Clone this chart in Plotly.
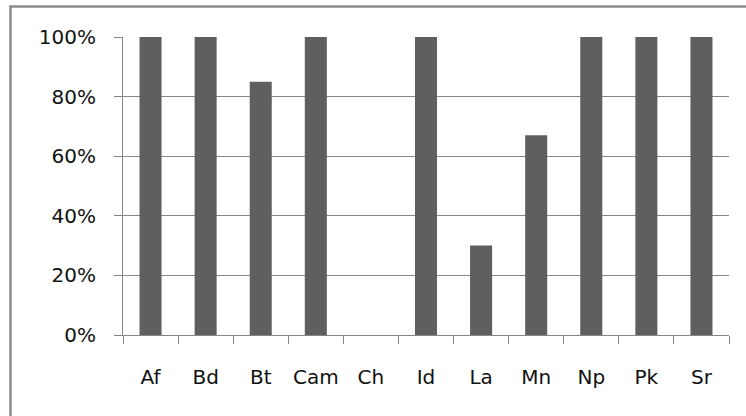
import plotly.graph_objects as go

categories = ["Af", "Bd", "Bt", "Cam", "Ch", "Id", "La", "Mn", "Np", "Pk", "Sr"]
values = [1.00, 1.00, 0.85, 1.00, 0.0, 1.00, 0.30, 0.67, 1.00, 1.00, 1.00]
y_ticks = [0, 0.2, 0.4, 0.6, 0.8, 1.0]
y_tick_labels = ["0%", "20%", "40%", "60%", "80%", "100%"]

W, H = 746, 416
ml, mr, mt, mb = 123, 17, 37, 81
pw, ph = W - ml - mr, H - mt - mb

def px_to_paper_x(px):
    return (px - ml) / pw

def px_to_paper_y(py):
    return (H - mb - py) / ph

border = dict(color="#8c8c8c", width=2.5)

fig = go.Figure(go.Bar(
    x=categories, y=values,
    marker=dict(color="#5f5f5f", line=dict(width=0)),
    width=0.4,
))

fig.update_layout(
    width=W, height=H,
    margin=dict(l=ml, r=mr, t=mt, b=mb),
    paper_bgcolor="white", plot_bgcolor="white",
    font=dict(family="DejaVu Sans", size=20, color="#111111"),
    showlegend=False,
    shapes=[
        dict(type="rect", xref="paper", yref="paper",
             x0=px_to_paper_x(734), x1=px_to_paper_x(W + 10),
             y0=px_to_paper_y(H + 10), y1=px_to_paper_y(10),
             line=dict(width=0), fillcolor="white", layer="above"),
        dict(type="line", xref="paper", yref="paper",
             x0=px_to_paper_x(9.5), x1=px_to_paper_x(W + 5),
             y0=px_to_paper_y(6.5), y1=px_to_paper_y(6.5),
             line=border, layer="above"),
        dict(type="line", xref="paper", yref="paper",
             x0=px_to_paper_x(10.5), x1=px_to_paper_x(10.5),
             y0=px_to_paper_y(5.5), y1=px_to_paper_y(H + 5),
             line=border, layer="above"),
    ],
)
fig.update_xaxes(
    type="category", tickson="boundaries",
    ticks="outside", ticklen=8, tickcolor="#868686", tickwidth=1,
    showline=True, linecolor="#868686", linewidth=1,
    showgrid=False, ticklabelstandoff=24,
)
fig.update_yaxes(
    range=[0, 1.0], tickvals=y_ticks, ticktext=y_tick_labels,
    ticks="outside", ticklen=8, tickcolor="#868686", tickwidth=1,
    showline=True, linecolor="#868686", linewidth=1,
    showgrid=True, gridcolor="#868686", gridwidth=1,
    zeroline=False, ticklabelstandoff=14,
)

css_js = (
    "var s=document.createElement('style');"
    "s.textContent='html,body{margin:0;padding:0;overflow:hidden;height:416px;}"
    "::-webkit-scrollbar{display:none;width:0;height:0;}';"
    "document.head.appendChild(s);"
)

fig.write_html(
    "out.html", config={"displayModeBar": False},
    post_script=css_js,
)
